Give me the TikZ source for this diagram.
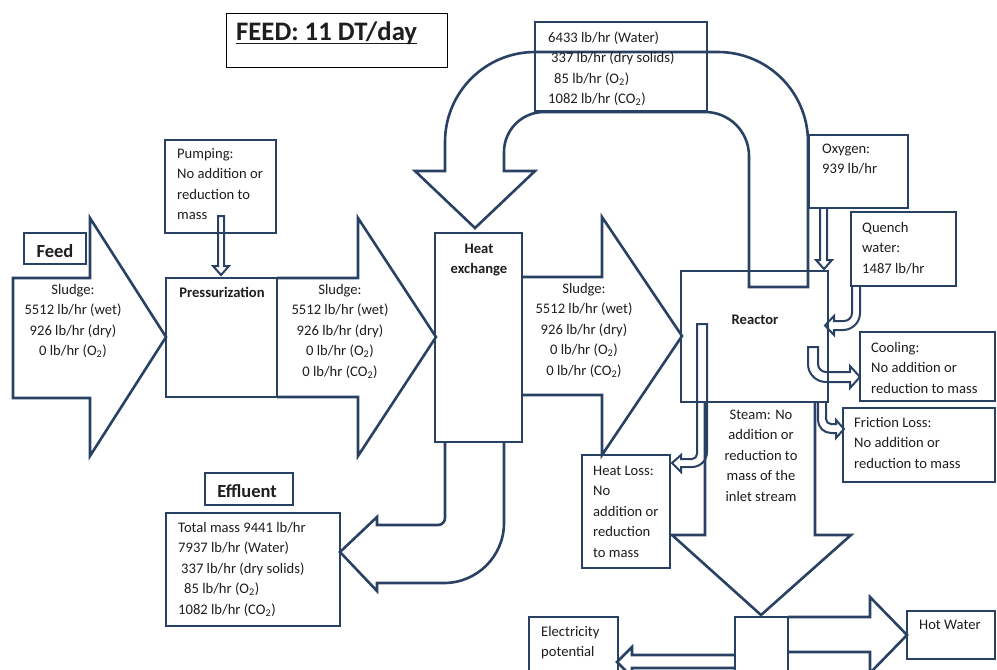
\documentclass[tikz,border=0pt]{standalone}
\usepackage{fontspec}
\setmainfont{Carlito}
\definecolor{navy}{RGB}{41,66,99}
\definecolor{ink}{RGB}{30,30,30}
\begin{document}
\begin{tikzpicture}[x=1pt,y=-1pt,
  ln/.style={draw=navy,line width=2.6pt,line join=miter},
  thinarrow/.style={draw=navy,line width=2pt,line join=miter},
  box/.style={draw=navy,line width=2.6pt},
  txt/.style={inner sep=0pt,text=ink,font=\fontsize{14.6}{20.5}\selectfont,anchor=base west,align=left},
  ctxt/.style={inner sep=0pt,text=ink,font=\fontsize{14.6}{20.5}\selectfont,anchor=base,align=center},
  btxt/.style={inner sep=0pt,text=ink,font=\fontsize{14.6}{20}\selectfont\bfseries,anchor=base,align=center},
  bigb/.style={inner sep=0pt,text=ink,font=\fontsize{18.5}{22}\selectfont\bfseries,anchor=base}
]
\fill[white] (0,0) rectangle (997,670);
\useasboundingbox (0,0) rectangle (997,670);
\clip (0,0) rectangle (997,670);

% title
\draw[black,line width=1pt] (226,13) rectangle (447,67);
\node[inner sep=0pt,anchor=base west,text=ink,font=\fontsize{26.7}{30}\selectfont\bfseries] (title) at (236,40) {FEED: 11 DT/day};
\draw[ink,line width=1.6pt] ([yshift=-3.5pt]title.base west) -- ([yshift=-3.5pt]title.base east);

% big block arrows
\draw[ln] (13,278) -- (90,278) -- (90,218) -- (166,337) -- (90,456) -- (90,398) -- (13,398) -- cycle;
\draw[ln] (277,278) -- (358,278) -- (358,218) -- (436,337) -- (358,456) -- (358,397) -- (277,397);
\draw[ln] (522,277) -- (602,277) -- (602,217) -- (682,336) -- (602,455) -- (602,395) -- (522,395);
\draw[ln] (705,402) -- (705,535) -- (672,535) -- (761,615) -- (851,535) -- (815,535) -- (815,402);
\draw[ln] (788,617) -- (870,617) -- (870,597) -- (907,635) -- (870,673) -- (870,652) -- (788,652);
\draw[ln] (735,655) -- (632,655) -- (632,647) -- (617,662) -- (632,677) -- (632,668) -- (735,668);

% recycle U arrow
\draw[ln] (808,287) -- (808,142) arc[start angle=0,end angle=-90,radius=90] -- (535,52)
  arc[start angle=-90,end angle=-180,radius=90] -- (445,171) -- (415,171) -- (475,228) -- (535,171)
  -- (504,171) -- (504,152) arc[start angle=180,end angle=270,radius=40] -- (705,112)
  arc[start angle=-90,end angle=0,radius=44] -- (749,287) -- cycle;

% effluent U arrow
\draw[ln] (445,442) -- (445,518) arc[start angle=0,end angle=90,radius=7] -- (377,525) -- (377,517)
  -- (340,552) -- (377,591) -- (377,583) -- (444,583) arc[start angle=90,end angle=0,radius=60] -- (504,442);

% narrow arrows
\draw[thinarrow] (218,216) -- (218,266) -- (213,266) -- (221,275) -- (229,266) -- (224,266) -- (224,216) -- cycle;
\draw[thinarrow] (820,208) -- (820,260) -- (816,260) -- (824,269) -- (832,260) -- (827,260) -- (827,208);
\draw[thinarrow] (852,286) -- (852,313) arc[start angle=0,end angle=90,radius=8] -- (834,321) -- (834,316)
  -- (825,325.5) -- (834,335) -- (834,330) -- (843,330) arc[start angle=90,end angle=0,radius=17] -- (860,286);
\draw[thinarrow] (818,347) -- (808,347) -- (808,364) arc[start angle=180,end angle=90,radius=18] -- (850,382)
  -- (850,388) -- (860,377) -- (850,366) -- (850,372) -- (826,372) arc[start angle=90,end angle=180,radius=8] -- cycle;
\draw[thinarrow] (826,402) -- (826,419) arc[start angle=180,end angle=90,radius=5] -- (836,424) -- (836,420)
  -- (844,429) -- (836,438) -- (836,433) -- (831,433) arc[start angle=90,end angle=180,radius=13] -- (818,402);
\draw[thinarrow] (697,324) -- (707,324) -- (707,452) arc[start angle=0,end angle=90,radius=15] -- (681,467)
  -- (681,472) -- (672,463) -- (681,455) -- (681,459) -- (692,459) arc[start angle=90,end angle=0,radius=5] -- cycle;

% boxes
\draw[box] (24,233) rectangle (86,264);
\draw[box] (165,140) rectangle (276,233);
\draw[box] (166,278) rectangle (277,397);
\draw[box] (435,233) rectangle (522,442);
\draw[box] (535,22) rectangle (707,111);
\draw[box] (809,135) rectangle (908,208);
\draw[box] (851,212) rectangle (956,286);
\draw[box] (681,271) rectangle (828,402);
\draw[box] (860,332) rectangle (995,401);
\draw[box] (843,408) rectangle (995,482);
\draw[box] (582,455) rectangle (670,568);
\draw[box] (205,473) rectangle (293,505);
\draw[box] (166,513) rectangle (340,626);
\draw[box] (529,617) rectangle (618,685);
\draw[box] (735,617) rectangle (788,685);
\draw[box] (907,611) rectangle (995,659);

% texts (base anchor = last line baseline)
\node[bigb] (feedlbl) at (55,257) {Feed};
\node[bigb] (efflbl) at (247,497) {Effluent};
\node[ctxt] (feedtxt) at (73,355.5) {Sludge:\\5512 lb/hr (wet)\\926 lb/hr (dry)\\0 lb/hr (O\textsubscript{2})};
\node[ctxt] (s2txt) at (340,376) {Sludge:\\5512 lb/hr (wet)\\926 lb/hr (dry)\\0 lb/hr (O\textsubscript{2})\\0 lb/hr (CO\textsubscript{2})};
\node[ctxt] (s3txt) at (584,375) {Sludge:\\5512 lb/hr (wet)\\926 lb/hr (dry)\\0 lb/hr (O\textsubscript{2})\\0 lb/hr (CO\textsubscript{2})};
\node[btxt] (press) at (222,297) {Pressurization};
\node[btxt] (hx) at (479,273) {Heat\\exchange};
\node[btxt] (reac) at (755,324) {Reactor};
\node[txt] (pump) at (177,219.5) {Pumping:\\No addition or\\reduction to\\mass};
\node[txt] (top) at (548,103.5) {6433 lb/hr (Water)\\\hspace*{3pt}337 lb/hr (dry solids)\\\hspace*{6pt}85 lb/hr (O\textsubscript{2})\\1082 lb/hr (CO\textsubscript{2})};
\node[txt] (oxy) at (822,173.5) {Oxygen:\\939 lb/hr};
\node[txt] (quench) at (862,273) {Quench\\water:\\1487 lb/hr};
\node[txt] (cool) at (871,393) {Cooling:\\No addition or\\reduction to mass};
\node[txt] (fric) at (854,468) {Friction Loss:\\No addition or\\reduction to mass};
\node[ctxt] (steam) at (761,501) {Steam: No\\addition or\\reduction to\\mass of the\\inlet stream};
\node[txt] (hloss) at (593,557) {Heat Loss:\\No\\addition or\\reduction\\to mass};
\node[txt] (eff) at (178,614) {Total mass 9441 lb/hr\\7937 lb/hr (Water)\\\hspace*{3pt}337 lb/hr (dry solids)\\\hspace*{6pt}85 lb/hr (O\textsubscript{2})\\1082 lb/hr (CO\textsubscript{2})};
\node[txt] (elec) at (541,656.5) {Electricity\\potential};
\node[txt] (hot) at (919,629) {Hot Water};
\end{tikzpicture}
\end{document}
